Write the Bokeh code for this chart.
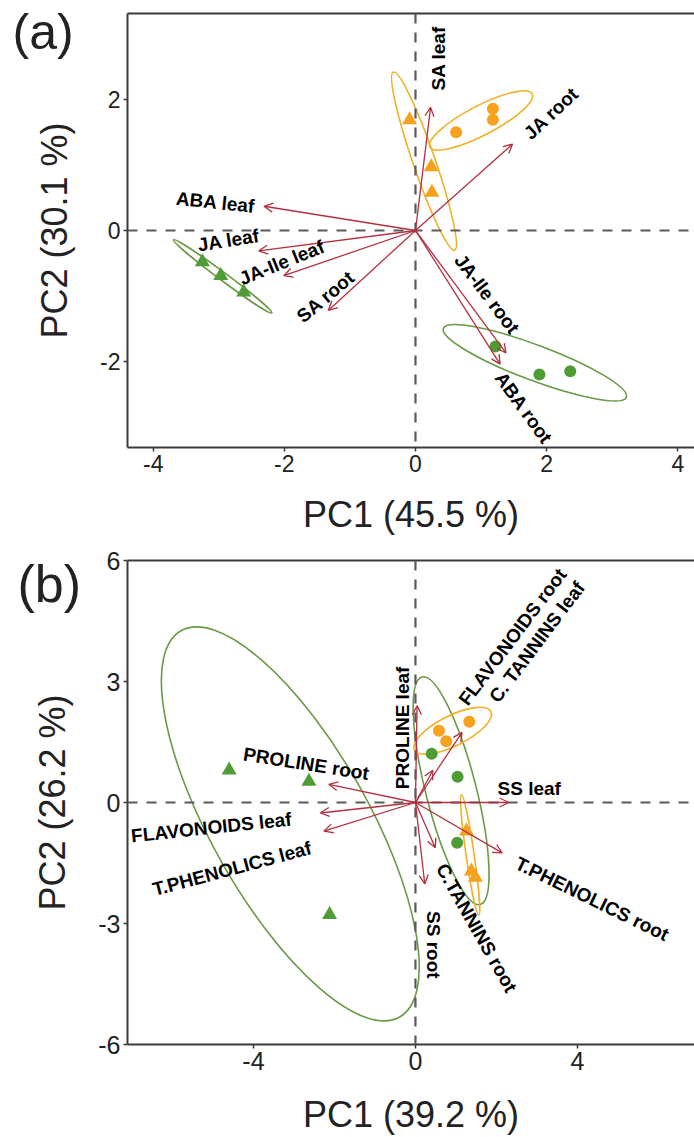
import math
from bokeh.plotting import figure
from bokeh.models import (ColumnDataSource, Arrow, OpenHead, LabelSet, Title, Span,
                          LinearAxis, FixedTicker)
from bokeh.layouts import column
from bokeh.core.properties import value
from bokeh.embed import file_html
from bokeh.resources import INLINE

# ---------------- Panel (a) data ----------------
a_orange_tri_x = [-0.09, 0.24, 0.25]
a_orange_tri_y = [1.69, 0.97, 0.58]
a_orange_cir_x = [0.62, 1.18, 1.18]
a_orange_cir_y = [1.50, 1.86, 1.69]
a_green_tri_x = [-3.25, -2.97, -2.62]
a_green_tri_y = [-0.48, -0.69, -0.94]
a_green_cir_x = [1.22, 1.89, 2.36]
a_green_cir_y = [-1.77, -2.20, -2.15]

a_vars = ["SA leaf", "JA root", "ABA leaf", "JA leaf", "JA-Ile leaf", "SA root", "JA-Ile root", "ABA root"]
a_load_x = [0.23, 1.48, -2.31, -2.39, -2.01, -1.33, 1.38, 1.29]
a_load_y = [1.88, 1.32, 0.37, -0.31, -0.69, -1.22, -1.87, -2.04]

# confidence ellipses: orange triangles, orange circles, green triangles, green circles
a_ell_cx = [0.13, 1.00, -2.94, 1.82]
a_ell_cy = [1.06, 1.68, -0.70, -2.02]
a_ell_major = [2.87, 1.76, 1.87, 2.98]
a_ell_minor = [0.34, 0.45, 0.12, 0.54]
a_ell_angle = [109.0, 27.5, -36.7, -20.6]

a_xlabel = "PC1 (45.5 %)"
a_ylabel = "PC2 (30.1 %)"
a_xticks = [-4, -2, 0, 2, 4]
a_yticks = [-2, 0, 2]

# ---------------- Panel (b) data ----------------
b_green_tri_x = [-4.60, -2.63, -2.12]
b_green_tri_y = [0.80, 0.52, -2.78]
b_green_cir_x = [0.40, 1.04, 1.03]
b_green_cir_y = [1.21, 0.64, -1.00]
b_orange_cir_x = [1.33, 0.58, 0.76]
b_orange_cir_y = [2.00, 1.78, 1.52]
b_orange_tri_x = [1.26, 1.38, 1.48]
b_orange_tri_y = [-0.71, -1.70, -1.86]

b_vars = ["PROLINE leaf", "FLAVONOIDS root", "C. TANNINS leaf", "SS leaf", "T.PHENOLICS root",
          "C.TANNINS root", "SS root", "PROLINE root", "FLAVONOIDS leaf", "T.PHENOLICS leaf"]
b_load_x = [0.04, 1.15, 0.43, 2.30, 2.14, 0.49, 0.23, -2.14, -2.35, -2.26]
b_load_y = [2.40, 1.74, 0.80, 0.00, -1.25, -1.12, -2.02, 0.45, -0.26, -0.71]

# ellipses: green triangles, green circles, orange circles, orange triangles
b_ell_cx = [-3.09, 0.88, 0.92, 1.35]
b_ell_cy = [-0.53, 0.29, 1.78, -1.30]
b_ell_major = [10.96, 5.80, 2.11, 3.00]
b_ell_minor = [3.90, 1.25, 0.75, 0.20]
b_ell_angle = [119.5, 104.3, 26.5, 98.2]

b_xlabel = "PC1 (39.2 %)"
b_ylabel = "PC2 (26.2 %)"
b_xticks = [-4, 0, 4]
b_yticks = [-6, -3, 0, 3, 6]

# ---------------- label layout (annotation placement) ----------------
a_lab_x = [0.35, 2.07, -3.05, -2.85, -2.04, -1.37, 1.09, 1.65]
a_lab_y = [2.63, 1.79, 0.43, -0.15, -0.49, -1.01, -0.97, -2.71]
a_lab_ang = [90, 43, -6, 9, 22, 40, -53, -54]

b_lab_x = [-0.32, 2.40, 3.00, 2.81, 4.36, 1.51, 0.44, -2.70, -5.04, -4.53]
b_lab_y = [1.85, 4.11, 3.98, 0.34, -2.39, -3.11, -3.53, 0.96, -0.62, -1.64]
b_lab_ang = [90, 53, 53, 0, -26, -60.5, -90, -9, 6, 15]

# ---------------- styles ----------------
FONT = "Liberation Sans"
RED = "#b3303f"
GREEN = "#4f9b35"
ORANGE = "#f6a21d"
GREEN_LINE = "#6b9a47"
ORANGE_LINE = "#eeb12a"
AXIS = "#3a3a3a"
DASH = "#5a5a5a"


def make_fig(xr, yr, height, mbl, mbt, mbb, xticks, yticks, xlabel, ylabel, tick_fs, xstand):
    p = figure(width=694, height=height, x_range=xr, y_range=yr,
               output_backend="svg", toolbar_location=None,
               min_border_left=mbl, min_border_right=0, min_border_top=mbt, min_border_bottom=mbb)
    p.outline_line_color = None
    p.grid.visible = False
    p.background_fill_color = "white"
    for ax in (p.xaxis[0], p.yaxis[0]):
        ax.axis_line_color = AXIS
        ax.axis_line_width = 2
        ax.major_tick_line_color = AXIS
        ax.major_tick_line_width = 1.5
        ax.major_tick_out = 4
        ax.major_tick_in = 0
        ax.minor_tick_line_color = None
        ax.major_label_text_font = FONT
        ax.major_label_text_font_size = tick_fs
        ax.major_label_text_color = "#222222"
        ax.axis_label_text_font = FONT
        ax.axis_label_text_font_size = "36px"
        ax.axis_label_text_font_style = "normal"
        ax.axis_label_text_color = "#222222"
    p.xaxis.ticker = FixedTicker(ticks=xticks)
    p.yaxis.ticker = FixedTicker(ticks=yticks)
    p.xaxis.major_label_overrides = {t: str(t) for t in xticks}
    p.yaxis.major_label_overrides = {t: str(t) for t in yticks}
    p.xaxis.axis_label = xlabel
    p.yaxis.axis_label = ylabel
    p.xaxis.major_label_standoff = 3
    p.yaxis.major_label_standoff = 3
    p.xaxis.axis_label_standoff = xstand
    p.yaxis.axis_label_standoff = 22
    top = LinearAxis(ticker=FixedTicker(ticks=[]), axis_line_color=AXIS, axis_line_width=2,
                     major_tick_line_color=None, minor_tick_line_color=None,
                     major_tick_out=0, major_tick_in=0, major_label_standoff=0,
                     axis_label_standoff=0, major_label_text_font_size="0px")
    p.add_layout(top, "above")
    p.add_layout(Span(location=0, dimension="width", line_color=DASH, line_width=2.2, line_dash="10 9"))
    p.add_layout(Span(location=0, dimension="height", line_color=DASH, line_width=2.2, line_dash="10 9"))
    return p


def add_content(p, ell, ell_colors, groups, load_x, load_y, names, lx, ly, lang):
    cx, cy, mj, mn, an = ell
    p.ellipse(x=cx, y=cy, width=mj, height=mn, angle=an, angle_units="deg",
              fill_color=None, line_color=ell_colors, line_width=1.6)
    for gx, gy, marker, color, size in groups:
        p.scatter(gx, gy, marker=marker, size=size, fill_color=color, line_color=None)
    n = len(load_x)
    src = ColumnDataSource(dict(x0=[0] * n, y0=[0] * n, x1=load_x, y1=load_y))
    p.add_layout(Arrow(end=OpenHead(size=9, line_color=RED, line_width=1.3),
                       x_start="x0", y_start="y0", x_end="x1", y_end="y1",
                       source=src, line_color=RED, line_width=1.3))
    lsrc = ColumnDataSource(dict(x=lx, y=ly, text=names, angle=[math.radians(d) for d in lang]))
    p.add_layout(LabelSet(x="x", y="y", text="text", angle="angle", source=lsrc,
                          text_align="center", text_baseline="middle",
                          text_font=value(FONT), text_font_style="bold",
                          text_font_size="19px", text_color="black"))


# ---- Panel (a) ----
p1 = make_fig((-4.392, 4.255), (-3.313, 3.313), 540, 125, 13, 93,
              a_xticks, a_yticks, a_xlabel, a_ylabel, "23px", 19)
add_content(p1, (a_ell_cx, a_ell_cy, a_ell_major, a_ell_minor, a_ell_angle),
            [ORANGE_LINE, ORANGE_LINE, GREEN_LINE, GREEN_LINE],
            [(a_orange_tri_x, a_orange_tri_y, "triangle", ORANGE, 15),
             (a_orange_cir_x, a_orange_cir_y, "circle", ORANGE, 12),
             (a_green_tri_x, a_green_tri_y, "triangle", GREEN, 15),
             (a_green_cir_x, a_green_cir_y, "circle", GREEN, 12)],
            a_load_x, a_load_y, a_vars, a_lab_x, a_lab_y, a_lab_ang)
p1.add_layout(Title(text="(a)", align="left", vertical_align="bottom", offset=-115, standoff=-92,
                    text_font=FONT, text_font_size="50px", text_font_style="normal",
                    text_color="#222222"), "above")

# ---- Panel (b) ----
p2 = make_fig((-7.11, 6.89), (-6, 6), 597, 127, 20, 89,
              b_xticks, b_yticks, b_xlabel, b_ylabel, "25px", 21)
add_content(p2, (b_ell_cx, b_ell_cy, b_ell_major, b_ell_minor, b_ell_angle),
            [GREEN_LINE, GREEN_LINE, ORANGE_LINE, ORANGE_LINE],
            [(b_green_tri_x, b_green_tri_y, "triangle", GREEN, 15),
             (b_green_cir_x, b_green_cir_y, "circle", GREEN, 12),
             (b_orange_cir_x, b_orange_cir_y, "circle", ORANGE, 12),
             (b_orange_tri_x, b_orange_tri_y, "triangle", ORANGE, 15)],
            b_load_x, b_load_y, b_vars, b_lab_x, b_lab_y, b_lab_ang)
p2.add_layout(Title(text="(b)", align="left", vertical_align="bottom", offset=-110, standoff=-104,
                    text_font=FONT, text_font_size="52px", text_font_style="normal",
                    text_color="#222222"), "above")

layout = column(p1, p2)
open("out.html", "w").write(file_html(layout, INLINE))
